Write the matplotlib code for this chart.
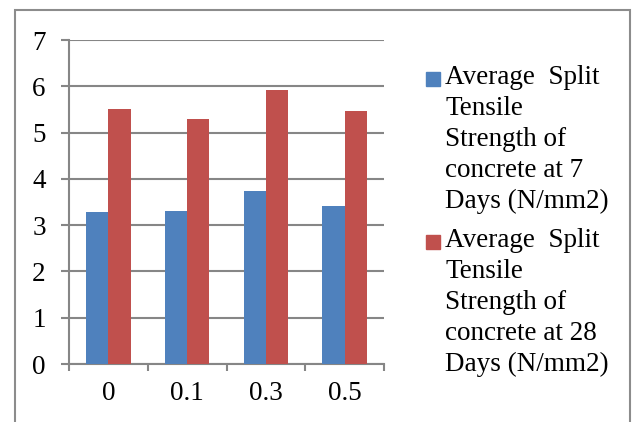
import matplotlib.pyplot as plt
from matplotlib.patches import Rectangle
import numpy as np

plt.rcParams['font.family'] = ['Liberation Serif', 'DejaVu Serif']

categories = ['0', '0.1', '0.3', '0.5']
days7 = [3.28, 3.31, 3.74, 3.42]
days28 = [5.51, 5.29, 5.91, 5.47]
labels = ['Average  Split\nTensile\nStrength of\nconcrete at 7\nDays (N/mm2)',
          'Average  Split\nTensile\nStrength of\nconcrete at 28\nDays (N/mm2)']
colors = ['#4F81BD', '#C0504D']

W, H = 634, 422
fig = plt.figure(figsize=(W / 100, H / 100), dpi=100)
ax = fig.add_axes([69 / W, 1 - 364 / H, 315 / W, 324 / H])

x = np.arange(len(categories))
bw = 0.284
ax.bar(x - bw / 2, days7, bw, color=colors[0], zorder=3)
ax.bar(x + bw / 2, days28, bw, color=colors[1], zorder=3)

grid_c = '#868686'
fs = 19.5
ax.set_xlim(-0.5, 3.5)
ax.set_ylim(0, 7)
ax.set_yticks(range(8))
ax.yaxis.grid(True, color=grid_c, lw=1.5, zorder=0)
ax.set_xticks(np.arange(-0.5, 4, 1))
ax.set_xticklabels([])
ax.set_xticks(x, minor=True)
ax.set_xticklabels(categories, minor=True)
# tick lengths in points (px * 0.72)
ax.tick_params(axis='x', which='major', length=5, width=1.5, color=grid_c, direction='out')
ax.tick_params(axis='x', which='minor', length=0, pad=12.5, labelsize=fs)
ax.tick_params(axis='y', length=5.8, width=1.5, color=grid_c, pad=11, labelsize=fs)
for s in ['top', 'right']:
    ax.spines[s].set_visible(False)
for s in ['left', 'bottom']:
    ax.spines[s].set_color(grid_c)
    ax.spines[s].set_linewidth(1.5)

# outer chart border (runs off the bottom of the image)
fig.add_artist(Rectangle((15 / W, -0.1), (630 - 15) / W, 1.1 - 10 / H,
                         transform=fig.transFigure, fill=False,
                         edgecolor='#8c8c8c', lw=1.5, clip_on=False))

# legend
for i, (lab, c) in enumerate(zip(labels, colors)):
    top = 72 + i * 163
    fig.add_artist(Rectangle((426 / W, 1 - (top + 14) / H), 14 / W, 14 / H,
                             transform=fig.transFigure, color=c))
    fig.text(445 / W, 1 - (top - 7) / H, lab, fontsize=fs, va='top', ha='left',
             linespacing=1.31)

fig.savefig('out.png', dpi=100)
